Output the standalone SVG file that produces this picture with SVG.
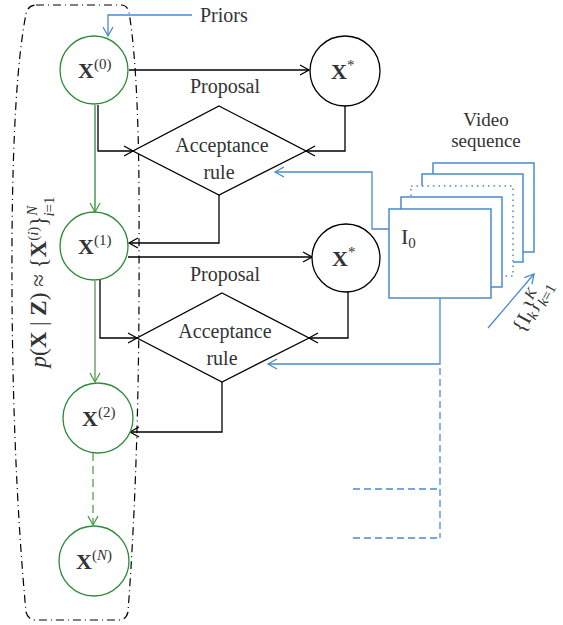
<svg xmlns="http://www.w3.org/2000/svg" width="563" height="625" viewBox="0 0 563 625">
<style>
.t{font-family:"Liberation Serif","DejaVu Serif",serif;fill:#333;}
.lbl{font-size:20px;text-anchor:middle;}
.xb{font-size:22px;font-weight:bold;}
.sup{font-size:15px;font-weight:normal;}
.k{fill:none;stroke:#000;stroke-width:1.3;}
.b{fill:none;stroke:#4a8ad0;stroke-width:1.3;}
.g{fill:none;stroke:#2e8b3a;stroke-width:1.3;}
.gl{fill:none;stroke:#5a9a50;stroke-width:1.3;}
.cg{fill:#fff;stroke:#2e8b3a;stroke-width:1.3;}
.ck{fill:#fff;stroke:#000;stroke-width:1.3;}
.fr{fill:#fff;stroke:#4a8ad0;stroke-width:1.5;}
</style>
<defs>
<marker id="ak" markerWidth="12" markerHeight="12" refX="10" refY="6" orient="auto" markerUnits="userSpaceOnUse"><path d="M1,1 L10,6 L1,11" fill="none" stroke="#000" stroke-width="1.3"/></marker>
<marker id="ab" markerWidth="12" markerHeight="12" refX="10" refY="6" orient="auto" markerUnits="userSpaceOnUse"><path d="M1,1 L10,6 L1,11" fill="none" stroke="#4a8ad0" stroke-width="1.3"/></marker>
<marker id="ag" markerWidth="12" markerHeight="12" refX="10" refY="6" orient="auto" markerUnits="userSpaceOnUse"><path d="M1,1 L10,6 L1,11" fill="none" stroke="#4a9a40" stroke-width="1.3"/></marker>
</defs>

<g id="region">
<path d="M36,5 L121,5 Q127,5 129,12 Q140,80 139,240 Q140,450 128,612 Q126,620 119,620 L36,620 Q28,620 26,612 Q11,450 12,240 Q13,80 26,14 Q28,5 36,5 Z" fill="none" stroke="#000" stroke-width="1.2" stroke-dasharray="8 4 1 4"/>
<text class="t" font-size="23" transform="translate(46,282) rotate(-90)" text-anchor="middle"><tspan font-style="italic">p</tspan>(<tspan font-weight="bold">X</tspan> | <tspan font-weight="bold">Z</tspan>)  ≈  {<tspan font-weight="bold">X</tspan><tspan font-size="15" dy="-8">(<tspan font-style="italic">i</tspan>)</tspan><tspan dy="8">}</tspan><tspan font-size="15" dy="-9"><tspan font-style="italic">N</tspan></tspan><tspan font-size="15" dx="-11" dy="17"><tspan font-style="italic">i</tspan>=1</tspan></text>
</g>

<g id="connectors">
<path class="b" d="M192,15 L108,15 L108,36" marker-end="url(#ab)"/>
<path class="g" d="M95,105 L95,212" marker-end="url(#ag)"/>
<path class="gl" d="M95,281 L95,382" marker-end="url(#ag)"/>
<path class="gl" d="M93,453 L93,525" stroke-dasharray="8 5" marker-end="url(#ag)"/>
<path class="k" d="M129,70 L309,70" marker-end="url(#ak)"/>
<path class="k" d="M98,105 L98,151 L133,151" marker-end="url(#ak)"/>
<path class="k" d="M345,106 L345,151 L306,151" marker-end="url(#ak)"/>
<path class="k" d="M219,195 L219,243 L129,243" marker-end="url(#ak)"/>
<path class="k" d="M128,257 L312,257" marker-end="url(#ak)"/>
<path class="k" d="M100,280 L100,338 L137,338" marker-end="url(#ak)"/>
<path class="k" d="M348,292 L348,338 L309,338" marker-end="url(#ak)"/>
<path class="k" d="M222,382 L222,432 L130,432" marker-end="url(#ak)"/>
<path class="b" d="M389,229 L372,229 L372,172 L275,172" marker-end="url(#ab)"/>
<path class="b" d="M440,298 L440,364 L268,364" marker-end="url(#ab)"/>
<path class="b" d="M440,368 L440,538" stroke-dasharray="7 4"/>
<path class="b" d="M353,489 L440,489" stroke-dasharray="7 4"/>
<path class="b" d="M353,538 L440,538" stroke-dasharray="7 4"/>
<path class="b" d="M488,328 L534,274" marker-end="url(#ab)"/>
</g>

<g id="priors"><text class="t" x="200" y="22" font-size="20">Priors</text></g>

<g id="x0"><circle class="cg" cx="94" cy="70" r="34"/><text class="t xb" x="78" y="78">X<tspan class="sup" dy="-9">(0)</tspan></text></g>
<g id="x1"><circle class="cg" cx="94" cy="246" r="34"/><text class="t xb" x="78" y="254">X<tspan class="sup" dy="-9">(1)</tspan></text></g>
<g id="x2"><circle class="cg" cx="98" cy="418" r="35"/><text class="t xb" x="82" y="426">X<tspan class="sup" dy="-9">(2)</tspan></text></g>
<g id="xN"><circle class="cg" cx="94" cy="561" r="35"/><text class="t xb" x="76" y="569">X<tspan class="sup" dy="-9">(<tspan font-style="italic">N</tspan>)</tspan></text></g>

<g id="xs1"><circle class="ck" cx="345" cy="71" r="35"/><text class="t xb" x="331" y="79">X<tspan class="sup" dy="-9">*</tspan></text></g>
<g id="xs2"><circle class="ck" cx="346" cy="258" r="34"/><text class="t xb" x="332" y="266">X<tspan class="sup" dy="-9">*</tspan></text></g>

<g id="prop1"><text class="t lbl" x="225" y="93">Proposal</text></g>
<g id="prop2"><text class="t lbl" x="225" y="281">Proposal</text></g>

<g id="acc1"><polygon points="219,106 306,151 219,195 133,151" fill="#fff" stroke="#000" stroke-width="1.3"/><text class="t lbl" x="222" y="152">Acceptance</text><text class="t lbl" x="219" y="179">rule</text></g>
<g id="acc2"><polygon points="222,293 309,338 222,382 137,338" fill="#fff" stroke="#000" stroke-width="1.3"/><text class="t lbl" x="225" y="338">Acceptance</text><text class="t lbl" x="222" y="365">rule</text></g>

<g id="video">
<text class="t" x="486" y="126" font-size="19" text-anchor="middle">Video</text>
<text class="t" x="486" y="147" font-size="19" text-anchor="middle">sequence</text>
<rect class="fr" x="433" y="163" width="101" height="89"/>
<rect class="fr" x="422" y="174" width="101" height="88"/>
<rect x="411" y="186" width="102" height="90" fill="#fff" stroke="#4a8ad0" stroke-width="1.5" stroke-dasharray="1.5 4"/>
<rect class="fr" x="401" y="197" width="101" height="90"/>
<rect class="fr" x="389" y="209" width="102" height="89"/>
<text class="t" x="401" y="244" font-size="22">I<tspan font-size="15" dy="4">0</tspan></text>
<text class="t" font-size="21" transform="translate(537,309) rotate(-62)" text-anchor="middle">{I<tspan font-size="15" dy="4" font-style="italic">k</tspan><tspan dy="-4">}</tspan><tspan font-size="15" dy="-8" font-style="italic">K</tspan><tspan font-size="15" dx="-10" dy="15"><tspan font-style="italic">k</tspan>=1</tspan></text>
</g>
</svg>
